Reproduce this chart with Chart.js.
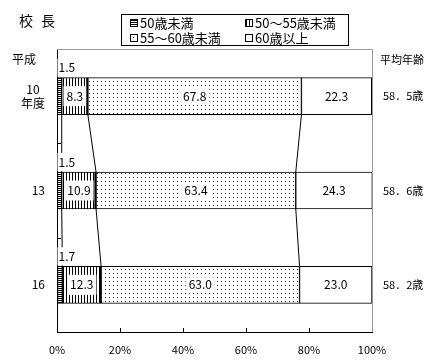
<!DOCTYPE html>
<html>
<head>
<meta charset="utf-8">
<script src="https://cdn.jsdelivr.net/npm/chart.js@4/dist/chart.umd.min.js"></script>
<style>
body { margin: 0; background: #fff; }
</style>
</head>
<body>
<canvas id="ageChart" width="442" height="364"></canvas>
<script>
// 校長の年齢構成 (平成10・13・16年度)
var years = [['10  ', '年度'], '13', '16'];
var seriesNames = ['50歳未満', '50～55歳未満', '55～60歳未満', '60歳以上'];
var under50 = [1.5, 1.5, 1.7];
var from50to55 = [8.3, 10.9, 12.3];
var from55to60 = [67.8, 63.4, 63.0];
var over60 = [22.3, 24.3, 23.0];
var avgAge = [58.5, 58.6, 58.2];
var xTicks = [0, 20, 40, 60, 80, 100];

var FONT = "'Noto Sans CJK JP', 'Noto Sans', sans-serif";

var ctx = document.getElementById('ageChart').getContext('2d');

// hatch patterns like the printed original
function makePattern(w, h, draw) {
    var c = document.createElement('canvas');
    c.width = w;
    c.height = h;
    var g = c.getContext('2d');
    g.fillStyle = '#fff';
    g.fillRect(0, 0, w, h);
    g.fillStyle = '#000';
    draw(g);
    return ctx.createPattern(c, 'repeat');
}
var hLines = makePattern(1, 2, function (g) { g.fillRect(0, 0, 1, 1); });
var vLines = makePattern(3, 1, function (g) { g.fillRect(0, 0, 1, 1); });
var dots = makePattern(4, 4, function (g) { g.fillStyle = '#222'; g.fillRect(1, 1, 1, 1); });
var fills = [hLines, vLines, dots, '#fff'];

var extras = {
    id: 'extras',
    beforeDatasetsDraw: function (chart) {
        var c = chart.ctx, a = chart.chartArea;
        var xs = chart.scales.x, ys = chart.scales.y;
        c.save();
        // grey frame top / right
        c.strokeStyle = '#999';
        c.lineWidth = 1;
        c.beginPath();
        c.moveTo(a.left, a.top + 0.5);
        c.lineTo(a.right + 0.5, a.top + 0.5);
        c.lineTo(a.right + 0.5, a.bottom);
        c.stroke();
        // small inward tick marks
        c.strokeStyle = '#000';
        c.beginPath();
        xTicks.slice(1, -1).forEach(function (v) {
            var px = Math.round(xs.getPixelForValue(v)) + 0.5;
            c.moveTo(px, a.bottom);
            c.lineTo(px, a.bottom - 4);
        });
        for (var i = 0; i < years.length - 1; i++) {
            var py = Math.round((ys.getPixelForValue(i) + ys.getPixelForValue(i + 1)) / 2) + 0.5;
            c.moveTo(a.left, py);
            c.lineTo(a.left + 4, py);
        }
        c.stroke();
        c.restore();
    },
    afterDatasetsDraw: function (chart) {
        var c = chart.ctx;
        c.save();
        // series lines between bars
        c.strokeStyle = '#000';
        c.lineWidth = 1;
        c.beginPath();
        for (var d = 0; d < 3; d++) {
            var meta = chart.getDatasetMeta(d);
            for (var i = 0; i < meta.data.length - 1; i++) {
                var b1 = meta.data[i].getProps(['x', 'y', 'height'], true);
                var b2 = meta.data[i + 1].getProps(['x', 'y', 'height'], true);
                c.moveTo(b1.x, b1.y + b1.height / 2);
                c.lineTo(b2.x, b2.y - b2.height / 2);
            }
        }
        c.stroke();

        // value labels
        c.font = '12px ' + FONT;
        c.textBaseline = 'middle';
        chart.data.datasets.forEach(function (ds, d) {
            var meta = chart.getDatasetMeta(d);
            meta.data.forEach(function (bar, i) {
                var p = bar.getProps(['x', 'y', 'base', 'height'], true);
                var txt = ds.data[i].toFixed(1);
                var w = c.measureText(txt).width;
                var tx, ty, bh;
                if (d === 0) {
                    tx = p.base + 1;
                    ty = p.y - p.height / 2 - 10;
                    bh = 18;
                    c.fillStyle = '#fff';
                    c.fillRect(tx - 1, ty - bh / 2, w + 4, bh);
                    c.fillStyle = '#000';
                    c.textAlign = 'left';
                    c.fillText(txt, tx, ty);
                } else {
                    tx = (p.x + p.base) / 2;
                    ty = p.y;
                    bh = d === 1 ? 20 : 15;
                    c.fillStyle = '#fff';
                    c.fillRect(tx - w / 2 - 3, ty - bh / 2, w + 6, bh);
                    c.fillStyle = '#000';
                    c.textAlign = 'center';
                    c.fillText(txt, tx, ty);
                }
            });
        });
        c.restore();
    },
    afterDraw: function (chart) {
        var c = chart.ctx, ys = chart.scales.y;
        c.save();
        c.fillStyle = '#000';
        c.textBaseline = 'middle';
        c.textAlign = 'left';

        // title
        c.font = '14px ' + FONT;
        c.fillText('校', 19, 21);
        c.fillText('長', 41, 21);

        c.font = '12px ' + FONT;
        c.fillText('平成', 12, 59);

        // legend
        c.strokeStyle = '#000';
        c.lineWidth = 1;
        c.strokeRect(121.5, 14.5, 227, 31);
        var spots = [[130, 23], [245, 23], [130, 38], [245, 38]];
        c.font = '13px ' + FONT;
        seriesNames.forEach(function (name, k) {
            var sx = spots[k][0], sy = spots[k][1];
            c.fillStyle = fills[k];
            c.fillRect(sx, sy - 4, 8, 8);
            c.strokeRect(sx + 0.5, sy - 3.5, 7, 7);
            c.fillStyle = '#000';
            c.fillText(name, sx + 10, sy);
        });

        // average age column
        c.font = '11px ' + FONT;
        c.fillText('平均年齢', 380, 60);
        avgAge.forEach(function (v, i) {
            var s = v.toFixed(1).replace('.', '．') + '歳';
            c.fillText(s, 383, ys.getPixelForValue(i));
        });
        c.restore();
    }
};

var ageChart = new Chart(ctx, {
    type: 'bar',
    data: {
        labels: years,
        datasets: [{
            label: seriesNames[0],
            data: under50,
            backgroundColor: hLines,
            borderWidth: 1
        }, {
            label: seriesNames[1],
            data: from50to55,
            backgroundColor: vLines,
            borderWidth: { top: 1, bottom: 1, left: 1, right: 2 }
        }, {
            label: seriesNames[2],
            data: from55to60,
            backgroundColor: dots,
            borderWidth: { top: 1, bottom: 1, left: 1, right: 1 }
        }, {
            label: seriesNames[3],
            data: over60,
            backgroundColor: '#fff',
            borderWidth: { top: 1, bottom: 1, left: 1, right: 1 }
        }]
    },
    options: {
        indexAxis: 'y',
        responsive: false,
        animation: false,
        barThickness: 37,
        borderColor: '#000',
        borderSkipped: false,
        layout: { padding: { top: 49, right: 70, left: 0, bottom: 0 } },
        plugins: {
            legend: { display: false },
            tooltip: { enabled: false }
        },
        scales: {
            x: {
                stacked: true,
                min: 0,
                max: 100,
                afterBuildTicks: function (s) { s.ticks = xTicks.map(function (v) { return { value: v }; }); },
                afterFit: function (s) { s.height = 32; },
                ticks: {
                    callback: function (v) { return v + '%'; },
                    color: '#000',
                    font: { family: FONT, size: 11 },
                    padding: 11,
                    maxRotation: 0,
                    autoSkip: false
                },
                grid: { drawOnChartArea: false, drawTicks: false },
                border: { color: '#000', width: 1 }
            },
            y: {
                stacked: true,
                afterFit: function (s) { s.width = 57; },
                ticks: {
                    color: '#000',
                    font: { family: FONT, size: 12 },
                    padding: 12
                },
                grid: { drawOnChartArea: false, drawTicks: false },
                border: { color: '#000', width: 1 }
            }
        }
    },
    plugins: [extras]
});
</script>
</body>
</html>
